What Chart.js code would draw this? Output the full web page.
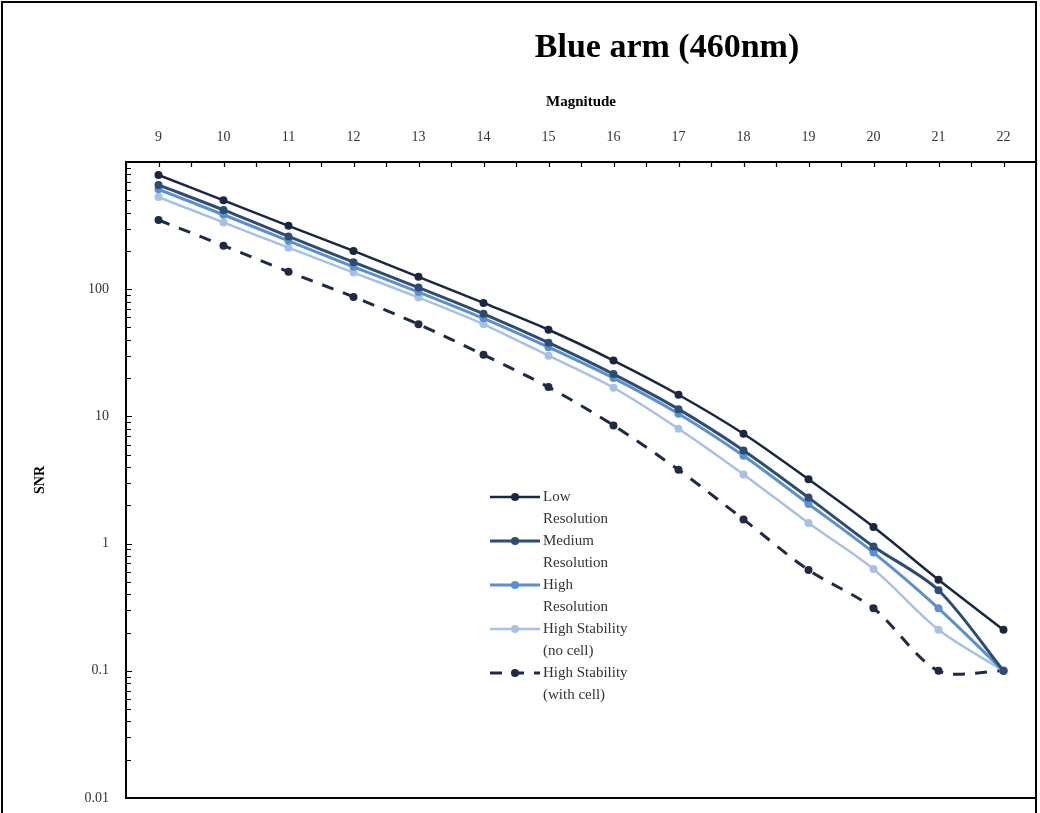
<!DOCTYPE html>
<html>
<head>
<meta charset="utf-8">
<script src="https://cdn.jsdelivr.net/npm/chart.js@4"></script>
<style>
  body { margin: 0; background: #fff; }
  #marco { position: absolute; left: 1px; top: 1px; width: 1036px; height: 900px; border: 2px solid #000; box-sizing: border-box; }
  #lienzo { position: absolute; left: 0; top: 0; }
</style>
</head>
<body>
<div id="marco"></div>
<canvas id="lienzo" width="1040" height="813"></canvas>
<script>
const magnitudes = [9, 10, 11, 12, 13, 14, 15, 16, 17, 18, 19, 20, 21, 22];
const snrLow = [790, 500, 315, 200, 125, 78, 48, 27.5, 14.8, 7.3, 3.2, 1.35, 0.52, 0.21];
const snrMedium = [660, 420, 260, 163, 103, 64, 38, 21.5, 11.4, 5.4, 2.3, 0.95, 0.43, 0.1];
const snrHigh = [610, 385, 240, 150, 95, 59, 35, 20, 10.5, 4.9, 2.05, 0.85, 0.31, 0.1];
const snrStabNoCell = [530, 335, 212, 135, 86, 53, 30, 16.8, 8, 3.5, 1.45, 0.63, 0.21, 0.1];
const snrStabCell = [350, 220, 137, 87, 53, 30.5, 17, 8.5, 3.8, 1.55, 0.62, 0.31, 0.1, 0.1];
const snrTicks = [0.01, 0.1, 1, 10, 100, 1000];
const legendLines = [['Low', 'Resolution'], ['Medium', 'Resolution'], ['High', 'Resolution'], ['High Stability', '(no cell)'], ['High Stability', '(with cell)']];

const serie = (label, valores, color, ancho, dash) => ({
  label: label,
  data: magnitudes.map((m, i) => ({ x: m, y: valores[i] })),
  borderColor: color,
  backgroundColor: color,
  borderWidth: ancho,
  borderDash: dash || [],
  pointRadius: 4,
  pointHoverRadius: 4,
  pointBorderWidth: 0,
  tension: 0.3,
  fill: false
});

// marco, ticks interiores, titulo y leyenda
const extras = {
  id: 'extras',
  afterDraw(chart) {
    const ctx = chart.ctx;
    const a = chart.chartArea;
    const xs = chart.scales.x, ys = chart.scales.y;
    ctx.save();
    ctx.strokeStyle = '#000';
    ctx.lineWidth = 2;
    ctx.strokeRect(a.left, a.top, a.right - a.left, a.bottom - a.top);
    ctx.lineWidth = 1.2;
    ctx.beginPath();
    for (let v = 8.5; v <= 22.5; v += 0.5) {
      const px = Math.round(xs.getPixelForValue(v)) + 0.5;
      ctx.moveTo(px, a.top);
      ctx.lineTo(px, a.top + 5);
    }
    for (let d = 0.01; d < 1000; d *= 10) {
      for (let k = 1; k <= 9; k++) {
        const py = Math.round(ys.getPixelForValue(d * k)) + 0.5;
        ctx.moveTo(a.left, py);
        ctx.lineTo(a.left + (k === 1 ? 6 : 5), py);
      }
    }
    ctx.stroke();

    ctx.fillStyle = '#000';
    ctx.font = 'bold 34px "Liberation Serif"';
    ctx.textAlign = 'center';
    ctx.textBaseline = 'middle';
    ctx.fillText('Blue arm (460nm)', 667, 48);

    // leyenda
    ctx.font = '15px "Liberation Serif"';
    ctx.textAlign = 'left';
    let y = 497;
    chart.data.datasets.forEach((ds, i) => {
      ctx.strokeStyle = ds.borderColor;
      ctx.lineWidth = ds.borderWidth;
      ctx.setLineDash(ds.borderDash);
      ctx.beginPath();
      ctx.moveTo(490, y);
      ctx.lineTo(540, y);
      ctx.stroke();
      ctx.setLineDash([]);
      ctx.fillStyle = ds.backgroundColor;
      ctx.beginPath();
      ctx.arc(515, y, 4, 0, Math.PI * 2);
      ctx.fill();
      ctx.fillStyle = '#333';
      legendLines[i].forEach((t, j) => ctx.fillText(t, 543, y + j * 22));
      y += 44;
    });
    ctx.restore();
  }
};

const ctxSnr = document.getElementById('lienzo').getContext('2d');
const grafico = new Chart(ctxSnr, {
  type: 'line',
  data: {
    datasets: [
      serie('Low Resolution', snrLow, '#1b2640', 2.5),
      serie('Medium Resolution', snrMedium, '#2b4c74', 3),
      serie('High Resolution', snrHigh, '#5b8fd0', 3),
      serie('High Stability (no cell)', snrStabNoCell, '#a8c0e6', 2.5),
      serie('High Stability (with cell)', snrStabCell, '#1e2b43', 3, [12, 10])
    ]
  },
  options: {
    responsive: false,
    animation: false,
    layout: { padding: { left: 0, right: 4, top: 0, bottom: 15 } },
    scales: {
      x: {
        type: 'linear',
        position: 'top',
        min: 8.5,
        max: 22.5,
        afterFit: (s) => { s.height = 162; s.paddingLeft = 0; s.paddingRight = 0; },
        afterBuildTicks: (s) => { s.ticks = magnitudes.map(v => ({ value: v })); },
        grid: { display: false, drawTicks: false },
        border: { display: false },
        ticks: { padding: 16, color: '#333', font: { family: 'Liberation Serif', size: 14 } },
        title: { display: true, text: 'Magnitude', color: '#000', padding: { top: 93 }, font: { family: 'Liberation Serif', size: 15, weight: 'bold' } }
      },
      y: {
        type: 'logarithmic',
        min: 0.01,
        max: 1000,
        afterFit: (s) => { s.width = 126; s.paddingTop = 0; s.paddingBottom = 0; },
        afterBuildTicks: (s) => { s.ticks = snrTicks.map(v => ({ value: v })); },
        grid: { display: false, drawTicks: false },
        border: { display: false },
        ticks: {
          padding: 17,
          color: '#333',
          font: { family: 'Liberation Serif', size: 14 },
          callback: (v) => (v === 1000 ? '' : String(v))
        },
        title: { display: true, text: 'SNR', color: '#000', padding: { top: 32 }, font: { family: 'Liberation Serif', size: 14, weight: 'bold' } }
      }
    },
    plugins: {
      legend: { display: false },
      tooltip: { enabled: false }
    }
  },
  plugins: [extras]
});
</script>
</body>
</html>
